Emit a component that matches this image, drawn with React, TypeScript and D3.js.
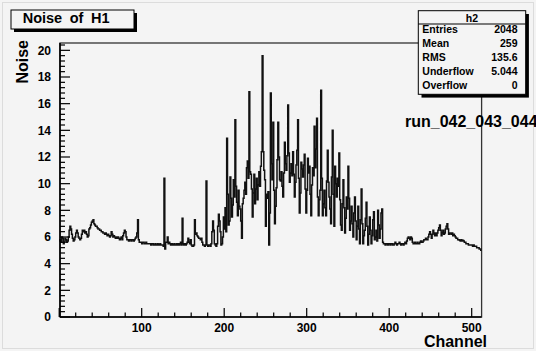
import React from 'react';
import * as d3 from 'd3';

const W = 536;
const H = 351;

// Noise per channel (512 bins)
const noiseBins0 = [
  5.8, 5.7, 5.6, 6.0, 5.9, 5.5, 5.6, 5.9, 5.8, 5.6,
  5.7, 6.0, 6.5, 6.8, 6.6, 6.2, 5.9, 5.7, 5.8, 6.0,
  6.3, 6.5, 6.3, 6.0, 5.9, 5.8, 5.9, 6.2, 6.5, 6.4,
  6.5, 6.3, 6.4, 6.2, 6.0, 6.1, 6.6, 6.7, 6.9, 7.1,
  7.2, 7.3, 7.0, 6.9, 6.8, 6.8, 6.7, 6.6, 6.6, 6.5,
  6.5, 6.4, 6.4, 6.3, 6.3, 6.2, 6.3, 6.2, 6.1, 6.2,
  6.1, 6.0, 6.1, 6.4, 6.2, 6.0, 6.1, 6.0, 5.9, 6.0,
  5.9, 6.0, 5.9, 5.8, 5.9, 6.0, 5.8, 6.1, 6.3, 6.5,
  6.4, 6.0, 5.8, 5.8, 5.7, 5.8, 5.8, 5.7, 5.8, 5.8,
  5.7, 5.8, 5.9, 6.0, 6.3, 7.3, 5.8, 5.6, 5.6, 5.6,
  5.5, 5.6, 5.6, 5.5, 5.5, 5.6, 5.5, 5.5, 5.5, 5.5,
  5.5, 5.4, 5.5, 5.5, 5.4, 5.4, 5.5, 5.4, 5.4, 5.5,
  5.4, 5.4, 5.5, 5.4, 5.4, 5.4, 5.3, 10.4,
];
const noiseBins1 = [
  5.1, 5.6,
  5.6, 6.0, 5.5, 5.6, 5.5, 5.4, 5.5, 5.4, 5.4, 5.5,
  5.4, 5.4, 5.5, 5.4, 5.5, 5.4, 5.5, 5.6, 5.4, 7.4,
  5.5, 5.4, 5.5, 5.4, 5.5, 5.6, 5.9, 5.6, 5.5, 5.8,
  5.4, 5.3, 5.3, 5.4, 7.3, 6.2, 6.3, 6.1, 6.0, 5.9,
  5.9, 5.8, 5.9, 5.6, 5.4, 5.4, 5.3, 5.4, 10.2, 5.4,
  5.3, 5.4, 5.4, 5.3, 5.5, 6.4, 7.2, 6.5, 5.5, 5.4,
  5.3, 5.5, 6.8, 7.7, 7.2, 6.4, 5.4, 5.5, 6.0, 7.5,
  6.6, 8.2, 6.4, 13.4, 9.2, 6.9, 7.2, 10.5, 8.9, 7.5,
  8.4, 10.3, 9.0, 14.8, 9.8, 8.6, 7.6, 9.5, 8.3, 8.1,
  7.2, 5.9, 8.5, 8.9, 9.5, 10.1, 9.2, 11.2, 11.7, 10.4,
  16.9, 10.9, 10.7, 9.6, 7.5, 9.3, 10.7, 8.5, 9.6, 10.4,
  8.8, 9.9, 10.9, 9.8, 11.3, 12.4, 19.6, 12.4, 11.0, 10.3,
  6.8, 9.2, 8.9, 9.4, 5.4, 7.8,
];
const noiseBins2 = [
  16.8, 11.5, 10.3, 14.6,
  9.5, 7.0, 8.3, 9.7, 11.8, 14.6, 12.0, 10.3, 10.2, 10.9,
  9.8, 9.0, 10.8, 13.1, 11.5, 11.0, 12.1, 15.9, 12.3, 10.1,
  10.8, 11.5, 10.6, 12.4, 10.7, 9.0, 10.1, 11.4, 12.5, 14.8,
  10.4, 7.8, 9.3, 11.6, 11.1, 10.5, 11.4, 12.2, 9.6, 7.8,
  9.5, 11.9, 10.8, 11.3, 9.2, 7.6, 9.9, 11.2, 10.6, 14.3,
  11.2, 12.6, 14.9, 9.0, 7.6, 8.8, 9.5, 17.0, 10.4, 7.6,
  8.5, 9.5, 8.2, 7.6, 10.2, 12.5, 10.1, 9.0, 8.1, 7.0,
  10.5, 14.0, 9.2, 6.8, 11.3, 10.0, 9.0, 10.4, 9.8, 12.3,
  8.8, 6.9, 6.5, 8.5, 10.3, 8.2, 6.3, 7.4, 9.0, 8.1,
  11.3, 8.9, 6.5, 7.2, 8.3, 7.0, 6.0, 7.8, 9.0, 7.2,
  5.8, 6.8, 8.3, 6.6, 5.5, 7.3, 9.6, 7.0, 5.5, 6.1,
  6.5, 7.4, 8.6, 6.8,
];
const noiseBins3 = [
  5.4, 6.2, 7.5, 6.5, 5.5, 6.1,
  7.3, 7.9, 5.8, 6.0, 6.5, 5.7, 8.0, 6.9, 5.9, 6.6,
  7.8, 8.1, 5.6, 5.5, 5.5, 5.4, 5.5, 5.5, 5.4, 5.5,
  5.5, 5.4, 5.5, 5.5, 5.4, 5.4, 5.5, 5.6, 5.5, 5.4,
  5.5, 5.5, 5.6, 5.5, 5.4, 5.5, 5.5, 5.4, 5.5, 5.6,
  5.5, 5.7, 5.9, 6.0, 5.9, 5.8, 6.0, 5.9, 5.6, 5.5,
  5.5, 5.6, 5.5, 5.5, 5.6, 5.5, 5.5, 5.6, 5.7, 5.6,
  5.6, 5.7, 5.8, 5.8, 5.9, 5.8, 5.8, 6.0, 6.2, 6.4,
  6.2, 5.9, 6.2, 6.5, 6.3, 6.1, 6.3, 6.1, 6.3, 6.5,
  6.7, 6.9, 6.5, 6.1, 6.3, 6.5, 6.2, 6.3, 6.6, 6.8,
  7.0, 6.6, 6.2, 6.3, 6.3, 6.2, 6.3, 6.1, 6.2, 6.1,
  6.0, 5.9, 5.9, 5.8, 5.8, 5.75, 5.7, 5.8, 5.7, 5.75,
  5.7, 5.6, 5.6, 5.5, 5.5, 5.5, 5.4, 5.4, 5.4, 5.4,
  5.4, 5.3, 5.4, 5.3, 5.3, 5.3, 5.2, 5.2, 5.2, 5.1, 5.1, 5.0,
];
const noise = [...noiseBins0, ...noiseBins1, ...noiseBins2, ...noiseBins3];

const xTickLabels = [100, 200, 300, 400, 500];
const yTickLabels = [0, 2, 4, 6, 8, 10, 12, 14, 16, 18, 20];
const statNames = ['Entries', 'Mean', 'RMS', 'Underflow', 'Overflow'];
const statValues = ['2048', '259', '135.6', '5.044', '0'];
const histName = 'h2';
const titleText = 'Noise of H1';
const xTitle = 'Channel';
const yTitle = 'Noise';
const runText = 'run_042_043_044';

const FONT = "'Liberation Sans', Arial, Helvetica, sans-serif";
const BG = '#f4f4f4';

export default function App() {
  const nBins = noise.length;
  const x = d3.scaleLinear().domain([0, nBins]).range([59.2, 481.6]);
  const y = d3.scaleLinear().domain([0, 20.55]).range([317, 43]);

  const pts: [number, number][] = noise.map((v, i) => [i, v] as [number, number]);
  pts.push([nBins, noise[nBins - 1]]);
  const line = d3
    .line<[number, number]>()
    .x((d) => x(d[0]))
    .y((d) => y(d[1]))
    .curve(d3.curveStepAfter);

  const xMinor = d3.range(0, nBins + 1, 20);
  const yMinor = d3.range(0, 20.55, 0.4);
  const x0 = x(0) + 0.8;
  const yb = y(0);

  return (
    <svg
      width={W}
      height={H}
      style={{ position: 'absolute', left: 0, top: 0, display: 'block' }}
      fontFamily={FONT}
      fontWeight="bold"
    >
      <rect x={0} y={0} width={W} height={H} fill={BG} />
      <rect x={2.5} y={2.5} width={531} height={346} fill="none" stroke="#dcdcdc" strokeWidth={1} />

      {/* frame */}
      <rect x={x0} y={y(20.55)} width={x(nBins) - x0} height={yb - y(20.55)} fill="none" stroke="#333" strokeWidth={1.3} />

      {/* histogram */}
      <path d={line(pts) || ''} fill="none" stroke="#111" strokeWidth={1.5} strokeLinejoin="miter" />

      {/* axes */}
      <line x1={x0} x2={x0} y1={y(20.55)} y2={yb} stroke="#000" strokeWidth={1.6} />
      <line x1={x0} x2={x(nBins)} y1={yb} y2={yb} stroke="#000" strokeWidth={1.6} />

      {xMinor.map((v) => {
        const major = v % 100 === 0;
        return (
          <line key={'xm' + v} x1={x(v)} x2={x(v)} y1={yb} y2={yb - (major ? 9 : 4.5)} stroke="#000" strokeWidth={1.2} />
        );
      })}
      {yMinor.map((v, i) => {
        const major = i % 5 === 0;
        return (
          <line key={'ym' + i} x1={x0} x2={x0 + (major ? 10 : 5)} y1={y(v)} y2={y(v)} stroke="#000" strokeWidth={1.2} />
        );
      })}

      {xTickLabels.map((v) => (
        <text key={'xl' + v} x={x(v)} y={331.5} textAnchor="middle" fontSize={12}>
          {v}
        </text>
      ))}
      {yTickLabels.map((v) => (
        <text key={'yl' + v} x={51} y={y(v) + 4.2} textAnchor="end" fontSize={12}>
          {v}
        </text>
      ))}

      <text x={487} y={347} textAnchor="end" fontSize={16}>
        {xTitle}
      </text>
      <text transform="translate(27.5,40) rotate(-90)" textAnchor="end" fontSize={16}>
        {yTitle}
      </text>

      {/* title box */}
      <rect x={14} y={13} width={123} height={19} fill="#000" />
      <rect x={11} y={10} width={123} height={19} fill={BG} stroke="#000" strokeWidth={1} />
      <text x={22.7} y={23} fontSize={14.5} wordSpacing={3.5}>
        {titleText}
      </text>

      {/* stats box */}
      <rect x={421.5} y={14} width={107.4} height={83.6} fill="#000" />
      <rect x={418.3} y={10.7} width={107.4} height={83.6} fill={BG} stroke="#000" strokeWidth={1} />
      <line x1={418.3} x2={525.7} y1={24} y2={24} stroke="#000" strokeWidth={1} />
      <text x={472} y={21.5} textAnchor="middle" fontSize={10.5}>
        {histName}
      </text>
      {statNames.map((n, i) => (
        <g key={n}>
          <text x={422.3} y={33.3 + i * 14} fontSize={10.5}>
            {n}
          </text>
          <text x={517.5} y={33.3 + i * 14} fontSize={10.5} textAnchor="end">
            {statValues[i]}
          </text>
        </g>
      ))}

      <text x={405} y={127} fontSize={16}>
        {runText}
      </text>
    </svg>
  );
}
